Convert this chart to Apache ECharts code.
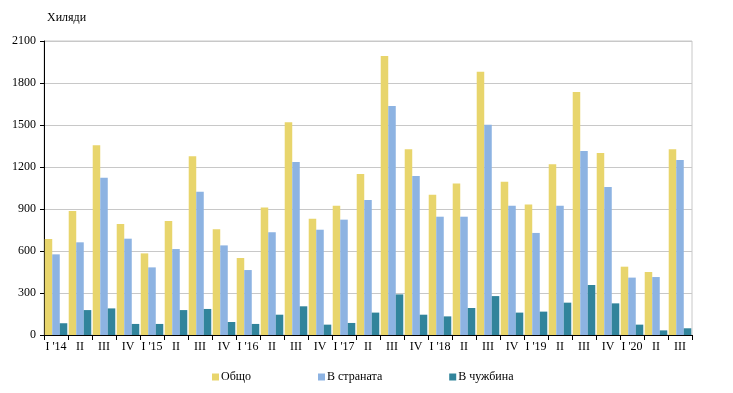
<!DOCTYPE html>
<html><head><meta charset="utf-8">
<script src="https://cdn.jsdelivr.net/npm/echarts@6/dist/echarts.min.js"></script>
<style>html,body{margin:0;padding:0;background:#fff}#c{width:733px;height:393px}</style>
</head><body><div id="c"></div>
<script>
const categories = ["I '14","II","III","IV","I '15","II","III","IV","I '16","II","III","IV","I '17","II","III","IV","I '18","II","III","IV","I '19","II","III","IV","I '20","II","III"];
const total = [686,886,1355,793,583,814,1276,755,550,910,1519,831,924,1150,1993,1326,1002,1083,1881,1095,933,1219,1736,1300,488,450,1326];
const domestic = [576,662,1124,688,483,614,1024,640,464,734,1236,752,824,964,1636,1136,845,845,1502,924,729,924,1314,1057,410,414,1250];
const abroad = [84,178,190,79,79,178,186,93,79,145,205,74,86,160,290,145,133,193,278,160,167,231,357,226,74,33,48];
const yTicks = {min:0,max:2100,interval:300};
const font = '"Liberation Serif","DejaVu Serif",serif';
const chart = echarts.init(document.getElementById('c'), null, {renderer:'canvas'});
chart.setOption({
  animation:false,
  textStyle:{fontFamily:font},
  grid:{left:44,right:41,top:41,bottom:58,show:true,borderColor:'#c8c8c8',borderWidth:1},
  title:{text:'Хиляди',left:42,top:7,textStyle:{fontFamily:font,fontSize:12,fontWeight:'normal',color:'#000'}},
  legend:{bottom:5,left:207,itemWidth:7,itemHeight:7,itemGap:67,icon:'rect',
    textStyle:{fontFamily:font,fontSize:12,color:'#000',padding:[0,0,0,-3]},
    data:['Общо','В страната','В чужбина']},
  xAxis:{type:'category',data:categories,boundaryGap:true,
    axisLine:{lineStyle:{color:'#000',width:1}},
    axisTick:{show:true,alignWithLabel:false,length:5,lineStyle:{color:'#000'}},
    axisLabel:{interval:0,color:'#000',fontFamily:font,fontSize:12,margin:6}},
  yAxis:{type:'value',min:yTicks.min,max:yTicks.max,interval:yTicks.interval,
    axisLine:{show:true,lineStyle:{color:'#000',width:1}},
    axisTick:{show:true,length:4,lineStyle:{color:'#000'}},
    axisLabel:{color:'#000',fontFamily:font,fontSize:12,margin:8,formatter:function(v){return String(v);}},
    splitLine:{lineStyle:{color:'#c8c8c8',width:1}}},
  series:[
    {name:'Общо',type:'bar',data:total,itemStyle:{color:'#E8D56C'},barGap:'0%',barCategoryGap:'6%'},
    {name:'В страната',type:'bar',data:domestic,itemStyle:{color:'#8DB3E2'},barGap:'0%',barCategoryGap:'6%'},
    {name:'В чужбина',type:'bar',data:abroad,itemStyle:{color:'#31849B'},barGap:'0%',barCategoryGap:'6%'}
  ]
});
</script></body></html>
